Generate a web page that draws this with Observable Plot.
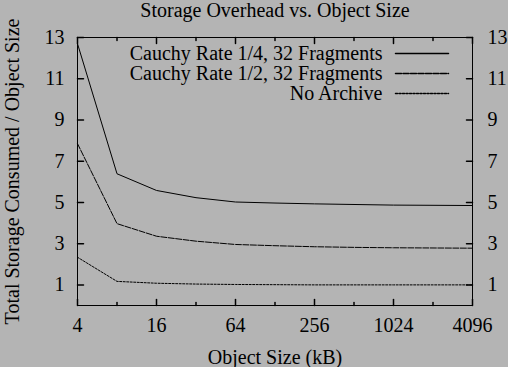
<!DOCTYPE html>
<html>
<head>
<meta charset="utf-8">
<script src="https://cdn.jsdelivr.net/npm/d3@7"></script>
<script src="https://cdn.jsdelivr.net/npm/@observablehq/plot@0.6"></script>
<style>
  html, body { margin: 0; padding: 0; background: #b4b4b4; }
  #chart svg { display: block; }
</style>
</head>
<body>
<div id="chart"></div>
<script>
// ---- data ----
const sizes = [4, 8, 16, 32, 64, 128, 256, 512, 1024, 2048, 4096];
const rateQuarter = [12.7, 6.39, 5.58, 5.23, 5.02, 4.97, 4.93, 4.9, 4.87, 4.86, 4.85];
const rateHalf = [7.85, 3.97, 3.36, 3.12, 2.96, 2.9, 2.85, 2.82, 2.8, 2.79, 2.78];
const noArchive = [2.34, 1.17, 1.08, 1.04, 1.02, 1.01, 1.0, 1.0, 1.0, 1.0, 1.0];
const seriesNames = ["Cauchy Rate 1/4, 32 Fragments", "Cauchy Rate 1/2, 32 Fragments", "No Archive"];
const xTicks = [4, 16, 64, 256, 1024, 4096];
const xMinorTicks = [8, 32, 128, 512, 2048];
const yTicks = [1, 3, 5, 7, 9, 11, 13];
const titleText = "Storage Overhead vs. Object Size";
const xLabel = "Object Size (kB)";
const yLabel = "Total Storage Consumed / Object Size";

// ---- build ----
const seriesValues = [rateQuarter, rateHalf, noArchive];
const dashes = [null, "6,1.5", "2,1.5"];
const table = seriesNames.map((name, i) => sizes.map((s, j) => ({series: name, size: s, value: seriesValues[i][j]})));

const font = "'Liberation Serif', 'Times New Roman', serif";
const fs = 20;
const lineShape = {draw(ctx, l) { ctx.moveTo(0, 0); ctx.lineTo(0, -l); }};
const txt = {fill: "black", lineAnchor: "middle"};

const marks = [
  Plot.frame({stroke: "black", strokeWidth: 1}),
  // inward ticks
  Plot.vector(xTicks, {x: d => d, frameAnchor: "bottom", length: 6, anchor: "start", shape: lineShape, stroke: "black"}),
  Plot.vector(xTicks, {x: d => d, frameAnchor: "top", length: 6, rotate: 180, anchor: "start", shape: lineShape, stroke: "black"}),
  Plot.vector(xMinorTicks, {x: d => d, frameAnchor: "bottom", length: 3, anchor: "start", shape: lineShape, stroke: "black"}),
  Plot.vector(xMinorTicks, {x: d => d, frameAnchor: "top", length: 3, rotate: 180, anchor: "start", shape: lineShape, stroke: "black"}),
  Plot.vector(yTicks, {y: d => d, frameAnchor: "left", length: 6, rotate: 90, anchor: "start", shape: lineShape, stroke: "black"}),
  Plot.vector(yTicks, {y: d => d, frameAnchor: "right", length: 6, rotate: -90, anchor: "start", shape: lineShape, stroke: "black"}),
  // tick labels
  Plot.text(xTicks, {...txt, x: d => d, text: d => String(d), frameAnchor: "bottom", dy: 20.5, textAnchor: "middle"}),
  Plot.text(yTicks, {...txt, y: d => d, text: d => String(d), frameAnchor: "left", dx: -13, textAnchor: "end"}),
  Plot.text(yTicks, {...txt, y: d => d, text: d => String(d), frameAnchor: "right", dx: 15, textAnchor: "start"}),
  // axis labels and title
  Plot.text([titleText], {...txt, text: d => d, frameAnchor: "top", dy: -27, textAnchor: "middle"}),
  Plot.text([xLabel], {...txt, text: d => d, frameAnchor: "bottom", dy: 52, textAnchor: "middle"}),
  Plot.text([yLabel], {...txt, text: d => d, frameAnchor: "left", dx: -65, rotate: -90, textAnchor: "middle"}),
];

table.forEach((rows, i) => {
  marks.push(Plot.line(rows, {x: "size", y: "value", stroke: "black", strokeWidth: 1, strokeDasharray: dashes[i] || undefined}));
  // legend
  marks.push(Plot.text([seriesNames[i]], {...txt, text: d => d, frameAnchor: "top-right", dx: -90, dy: 16 + 20 * i, textAnchor: "end"}));
  marks.push(Plot.vector([seriesNames[i]], {frameAnchor: "top-right", dx: -77, dy: 16 + 20 * i, length: 53, rotate: 90, anchor: "start", shape: lineShape, stroke: "black", strokeDasharray: dashes[i] || undefined}));
});

const chart = Plot.plot({
  width: 508,
  height: 367,
  marginLeft: 77,
  marginRight: 36,
  marginTop: 37,
  marginBottom: 62,
  style: {background: "#b4b4b4", fontFamily: font, fontSize: fs + "px", color: "black"},
  x: {type: "log", base: 2, domain: [4, 4096], axis: null},
  y: {domain: [0, 13], axis: null},
  marks
});
document.getElementById("chart").appendChild(chart);
</script>
</body>
</html>
